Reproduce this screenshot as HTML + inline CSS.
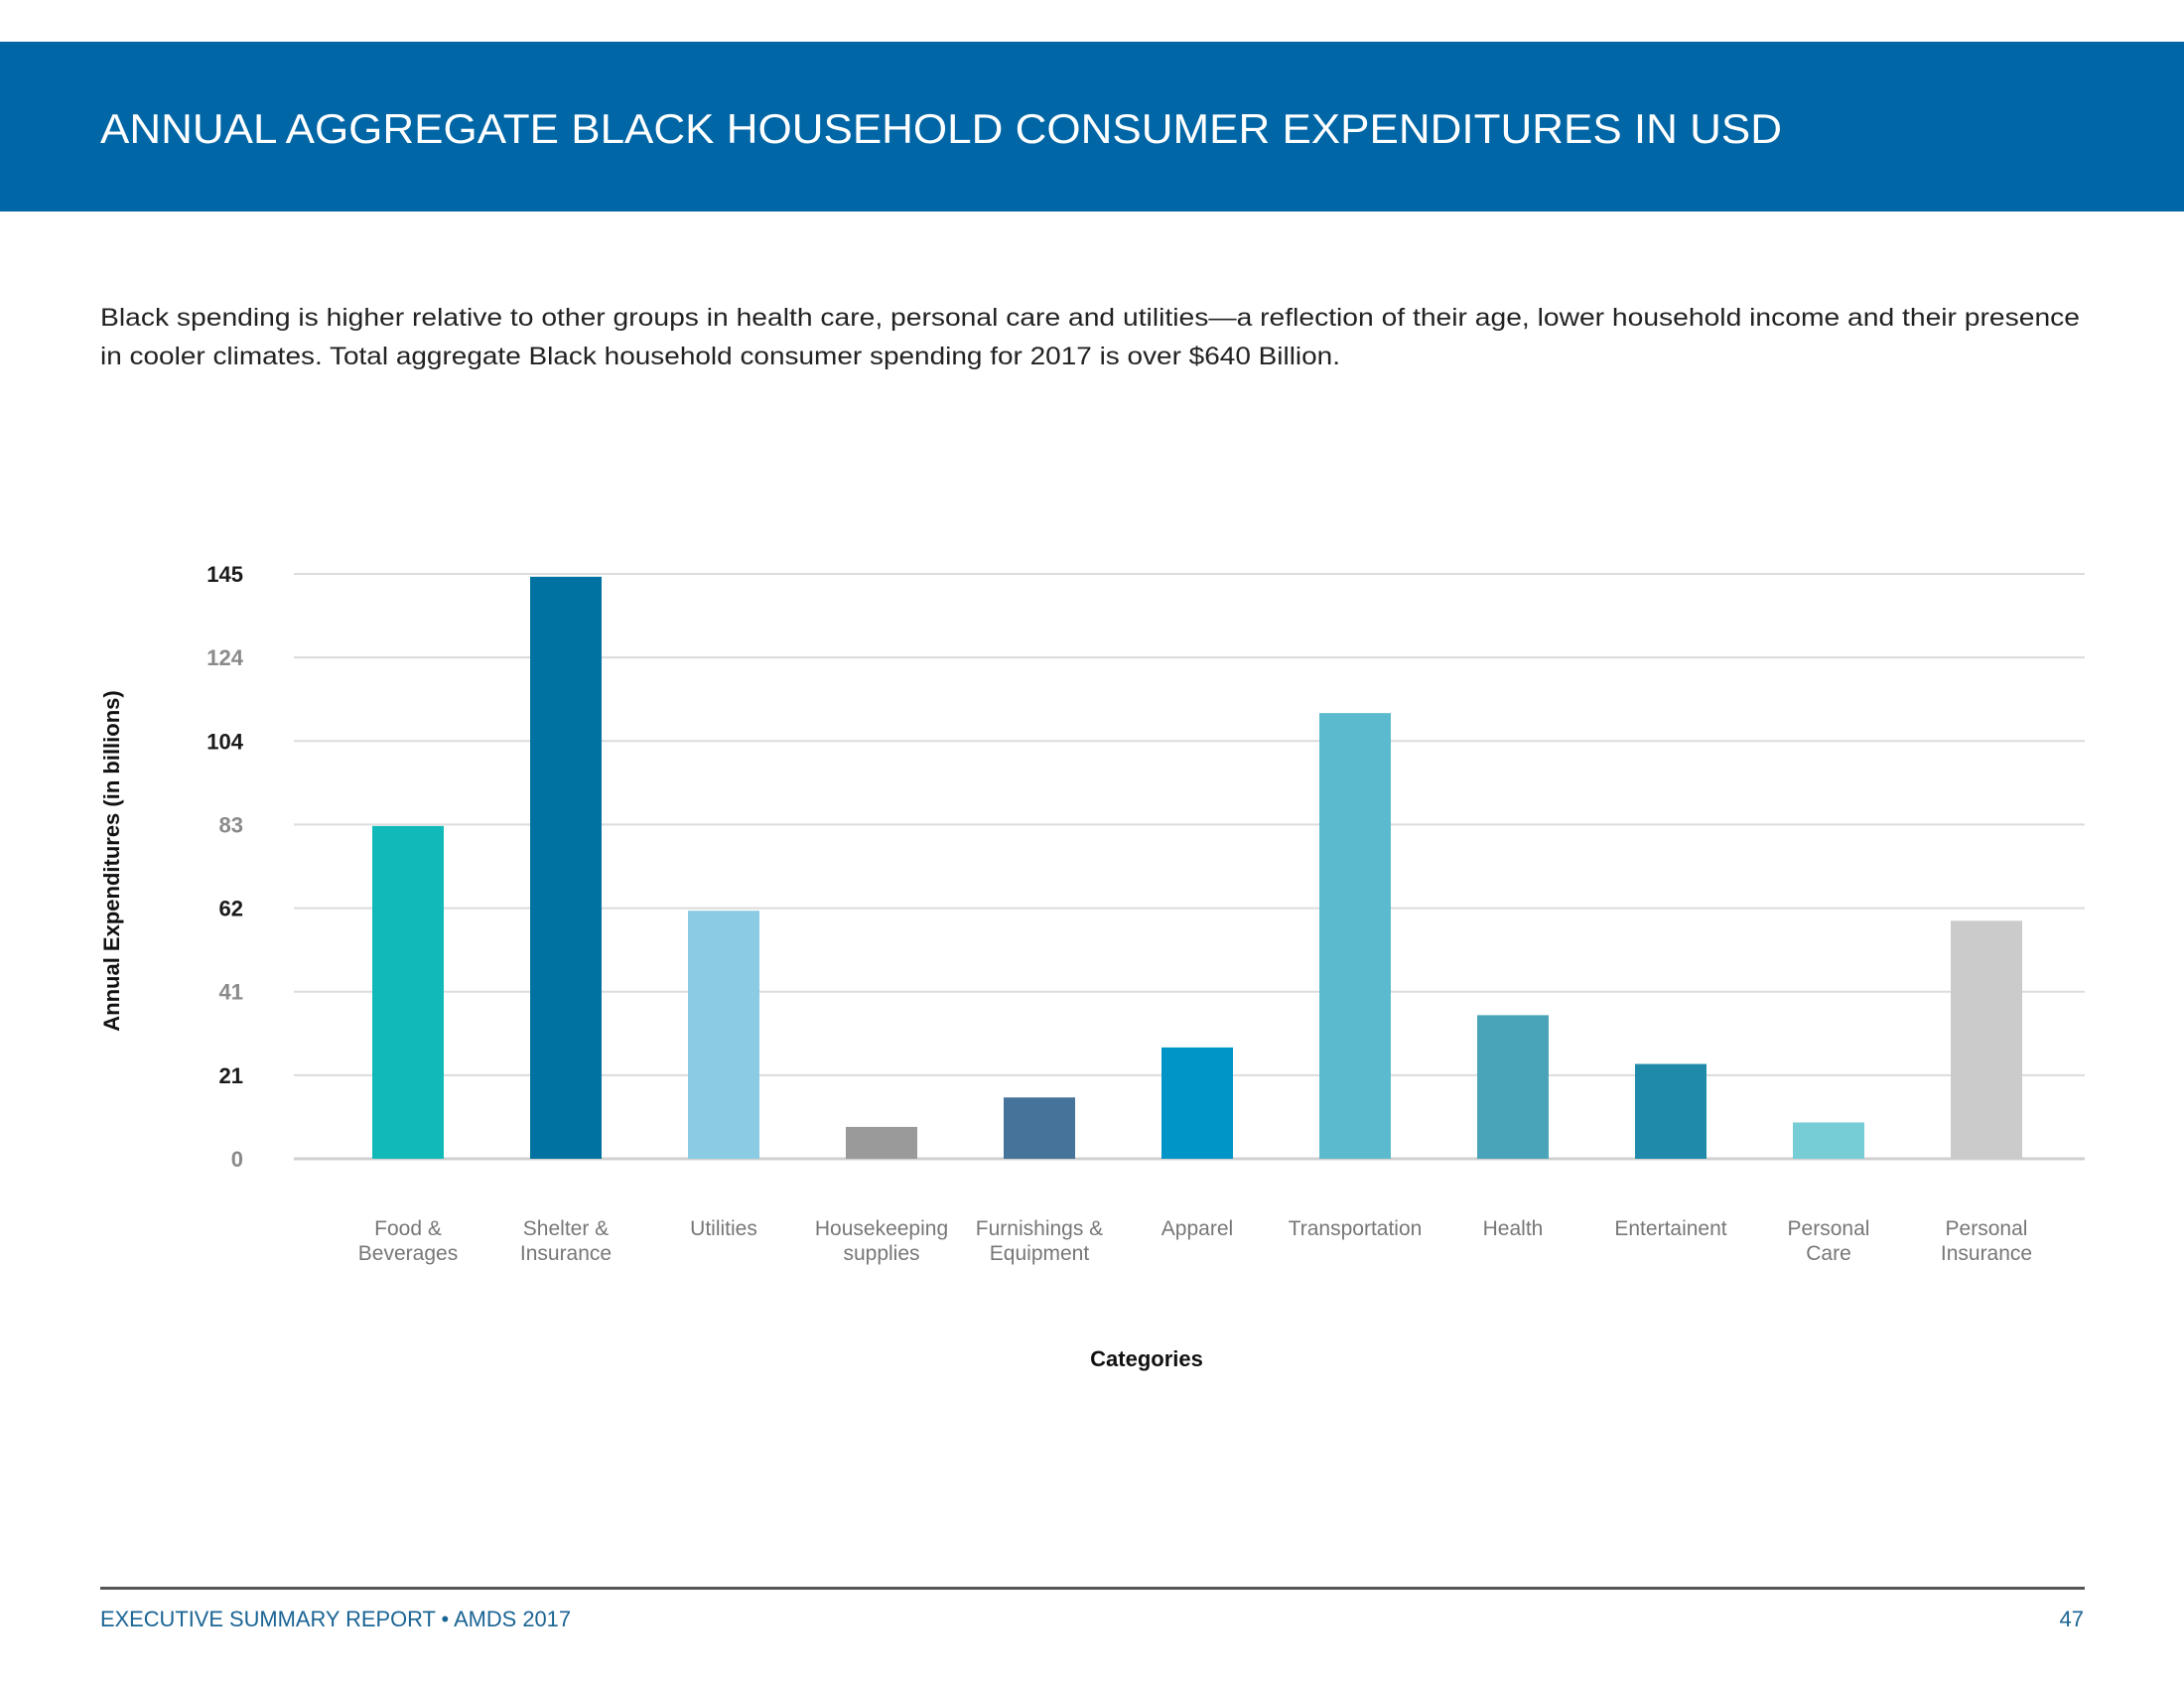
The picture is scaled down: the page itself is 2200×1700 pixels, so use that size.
<!DOCTYPE html>
<html><head><meta charset="utf-8">
<style>
html,body{margin:0;padding:0;background:#fff;}
svg{display:block;font-family:"Liberation Sans",sans-serif;}
</style></head>
<body>
<svg id="page" width="2200" height="1700" viewBox="0 0 2200 1700">
  <rect x="0" y="42" width="2200" height="171" fill="#0066a6"/>
  <text x="101" y="144" font-size="42" fill="#fff" textLength="1694" lengthAdjust="spacingAndGlyphs">ANNUAL AGGREGATE BLACK HOUSEHOLD CONSUMER EXPENDITURES IN USD</text>
  <text x="101" y="328" font-size="25" fill="#222" textLength="1994" lengthAdjust="spacingAndGlyphs">Black spending is higher relative to other groups in health care, personal care and utilities—a reflection of their age, lower household income and their presence</text>
  <text x="101" y="367" font-size="25" fill="#222" textLength="1249" lengthAdjust="spacingAndGlyphs">in cooler climates. Total aggregate Black household consumer spending for 2017 is over $640 Billion.</text>
  <g id="grid"></g>
  <g id="yticks"></g>
  <g id="bars"></g>
  <g id="xlabels"></g>
  <text transform="translate(120,867) rotate(-90)" text-anchor="middle" font-size="22" font-weight="bold" fill="#111">Annual Expenditures (in billions)</text>
  <text x="1155" y="1376" text-anchor="middle" font-size="22" font-weight="bold" fill="#111">Categories</text>
  <rect x="101" y="1598" width="1999" height="3" fill="#555"/>
  <text x="101" y="1638" font-size="22" fill="#1a6494" textLength="474" lengthAdjust="spacingAndGlyphs">EXECUTIVE SUMMARY REPORT  •  AMDS 2017</text>
  <text x="2099" y="1638" text-anchor="end" font-size="22" fill="#1a6494">47</text>
</svg>
<script>
const categories = [["Food &","Beverages"],["Shelter &","Insurance"],["Utilities"],["Housekeeping","supplies"],["Furnishings &","Equipment"],["Apparel"],["Transportation"],["Health"],["Entertainent"],["Personal","Care"],["Personal","Insurance"]];
const values = [82.5,144.3,61.5,7.9,15.2,27.6,110.5,35.6,23.5,9,59];
const colors = ["#12b9b9","#0072a1","#8ccbe4","#9a9a9a","#45739a","#0095c7","#5bbacd","#49a4b9","#1f8aaa","#76cdd5","#cbcbcb"];
const tickValues = [0,20.71,41.43,62.14,82.86,103.57,124.29,145];
const tickLabels = ["0","21","41","62","83","104","124","145"];

const NS = "http://www.w3.org/2000/svg";
const yMax = 145, yTop = 578, yBase = 1167;
function y(v){ return yBase - (v / yMax) * (yBase - yTop); }
function xc(i){ return 411 + i * 159; }
const barW = 72;

const grid = document.getElementById('grid');
const yt = document.getElementById('yticks');
tickValues.forEach((t, i) => {
  const l = document.createElementNS(NS, 'line');
  l.setAttribute('x1', 296); l.setAttribute('x2', 2100);
  l.setAttribute('y1', y(t)); l.setAttribute('y2', y(t));
  l.setAttribute('stroke', t === 0 ? '#cfcfcf' : '#dcdcdc');
  l.setAttribute('stroke-width', t === 0 ? 3 : 2);
  
  
  grid.appendChild(l);
  const tx = document.createElementNS(NS, 'text');
  tx.setAttribute('x', 245); tx.setAttribute('y', y(t) + 8);
  tx.setAttribute('text-anchor', 'end');
  tx.setAttribute('font-size', '22');
  tx.setAttribute('font-weight', 'bold');
  tx.setAttribute('fill', i % 2 === 0 ? '#8a8a8a' : '#1a1a1a');
  tx.textContent = tickLabels[i];
  
  
  yt.appendChild(tx);
});

const bars = document.getElementById('bars');
const xl = document.getElementById('xlabels');
values.forEach((v, i) => {
  const r = document.createElementNS(NS, 'rect');
  r.setAttribute('x', xc(i) - barW / 2);
  r.setAttribute('y', y(v));
  r.setAttribute('width', barW);
  r.setAttribute('height', yBase - y(v));
  r.setAttribute('fill', colors[i]);
  
  
  bars.appendChild(r);
  categories[i].forEach((line, j) => {
    const t = document.createElementNS(NS, 'text');
    t.setAttribute('x', xc(i));
    t.setAttribute('y', 1244 + j * 25);
    t.setAttribute('text-anchor', 'middle');
    t.setAttribute('font-size', '21');
    t.setAttribute('fill', '#777');
    t.textContent = line;
    
    
    xl.appendChild(t);
  });
});
</script>
</body></html>
